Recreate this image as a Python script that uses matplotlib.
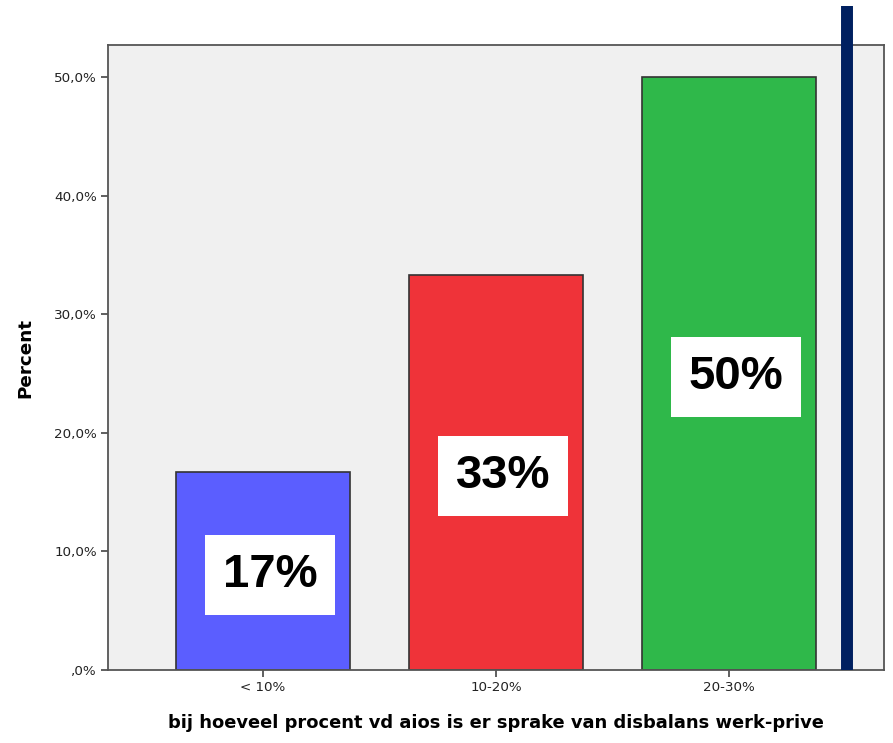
import matplotlib
matplotlib.use("Agg")
import matplotlib.pyplot as plt
from matplotlib.transforms import blended_transform_factory

categories = ["< 10%", "10-20%", "20-30%"]
values = [16.67, 33.33, 50.0]
labels = ["17%", "33%", "50%"]
yticks = [0, 10, 20, 30, 40, 50]
ytick_labels = [",0%", "10,0%", "20,0%", "30,0%", "40,0%", "50,0%"]
colors = ["#5b5eff", "#ef3339", "#2fb84a"]

plt.rcParams['font.family'] = ['DejaVu Sans']

fig = plt.figure(figsize=(8.93, 7.43), dpi=100)
W, H = 893, 743
ax = fig.add_axes([108 / W, 1 - 670 / H, (884 - 108) / W, (670 - 45) / H])
ax.set_facecolor("#f0f0f0")

x = list(range(len(categories)))
ax.bar(x, values, width=0.75, color=colors, edgecolor="#333333", linewidth=1.2, zorder=2)

for xi, v, lab in zip(x, values, labels):
    ax.text(xi + 0.03, v / 2 - 0.3, lab, ha="center", va="center", fontsize=34,
            fontweight="bold", color="black", zorder=4, family=["Liberation Sans"],
            bbox=dict(boxstyle="square,pad=0.38", facecolor="white", edgecolor="none"))

ax.set_xlim(-0.665, 2.665)
ax.set_ylim(0, 52.7)
ax.set_xticks(x)
ax.set_xticklabels(categories, fontsize=9.7, color="#222222")
ax.set_yticks(yticks)
ax.set_yticklabels(ytick_labels, fontsize=9.7, color="#222222")
ax.tick_params(axis="both", direction="out", length=5, width=1.2, color="#444444", pad=3)

for s in ax.spines.values():
    s.set_color("#555555")
    s.set_linewidth(1.3)

trans = blended_transform_factory(ax.transData, ax.transAxes)
ax.plot([2.506, 2.506], [0, (670 - 6) / (670 - 45)], transform=trans, color="#002060",
        linewidth=8.6, solid_capstyle="butt", clip_on=False, zorder=5)

ax.set_xlabel("bij hoeveel procent vd aios is er sprake van disbalans werk-prive",
              fontsize=12.9, fontweight="bold", labelpad=14)
ax.set_ylabel("Percent", fontsize=13.2, fontweight="bold", labelpad=14)

fig.savefig("out.png", dpi=100)
